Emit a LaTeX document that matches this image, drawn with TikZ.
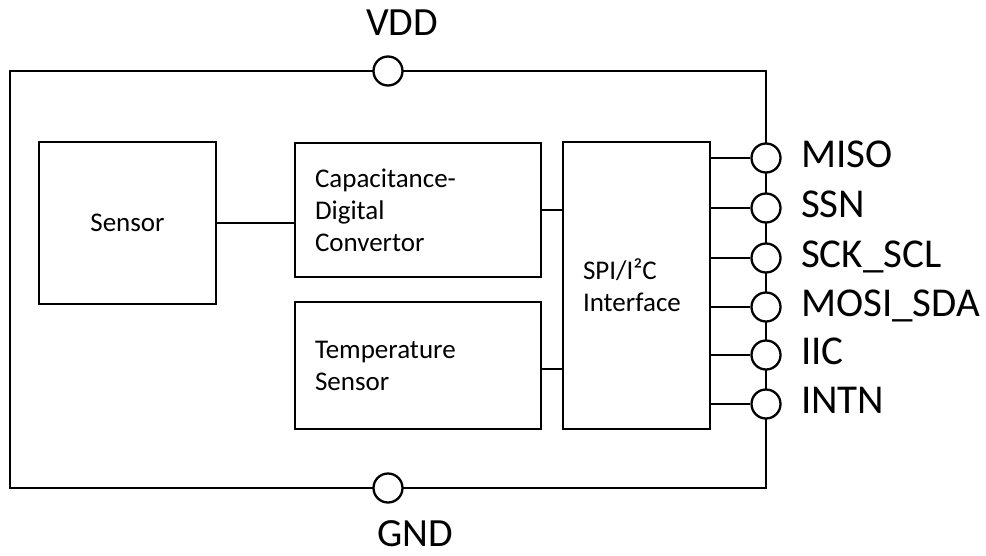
\documentclass[tikz,border=0pt]{standalone}
\usepackage{fontspec}
\setmainfont{Carlito}
\begin{document}
\begin{tikzpicture}[x=1pt,y=-1pt,
  line width=2.3pt,
  blk/.style={draw, line width=2.3pt, rectangle, inner sep=0pt, inner xsep=20pt, align=left,
    font=\fontsize{27}{32}\selectfont},
  pin/.style={draw, circle, fill=white, line width=2.3pt, minimum size=29pt, inner sep=0pt},
  pinlbl/.style={anchor=base west, inner sep=0pt, font=\fontsize{41}{46}\selectfont},
  toplbl/.style={anchor=base, inner sep=0pt, font=\fontsize{40}{44}\selectfont}]
\useasboundingbox (0,0) rectangle (986,555);

% chip outline
\node[draw, line width=2.3pt, rectangle, inner sep=0pt, minimum width=756pt, minimum height=417pt] (chip) at (388,279.5) {};

% blocks
\node[blk, minimum width=177pt, minimum height=162pt, align=center] (sensor) at (127.5,223) {Sensor};
\node[blk, minimum width=246pt, minimum height=134pt, text width=206pt] (cdc) at (418,210) {Capacitance-\\Digital\\Convertor};
\node[blk, minimum width=246pt, minimum height=127pt, text width=206pt] (temp) at (418,365.5) {Temperature\\Sensor};
\node[blk, minimum width=147pt, minimum height=287pt, text width=107pt] (spi) at (636.5,285.5) {SPI/I²C\\Interface};

% internal connections
\draw (sensor.east) -- (sensor.east -| cdc.west);
\draw (cdc.east) -- (cdc.east -| spi.west);
\draw (temp.east |- 0,369) coordinate (t1) -- (t1 -| spi.west);

% supply pins
\node[pin] (vdd) at (388,71) {};
\node[pin] (gnd) at (388,488) {};
\node[toplbl] (vddl) at (402,35) {VDD};
\node[toplbl] (gndl) at (415,546) {GND};

% interface pins
\foreach \nm/\yy/\lbl in {miso/158/MISO, ssn/208/SSN, sck/258/SCK\_SCL, mosi/307/MOSI\_SDA, iic/355/IIC, intn/404/INTN}{
  \node[pin] (\nm) at (766,\yy) {};
  \draw (\nm.west -| spi.east) -- (\nm.west);
  \node[pinlbl] (\nm l) at (800,\yy+9.5) {\lbl};
}
\end{tikzpicture}
\end{document}
